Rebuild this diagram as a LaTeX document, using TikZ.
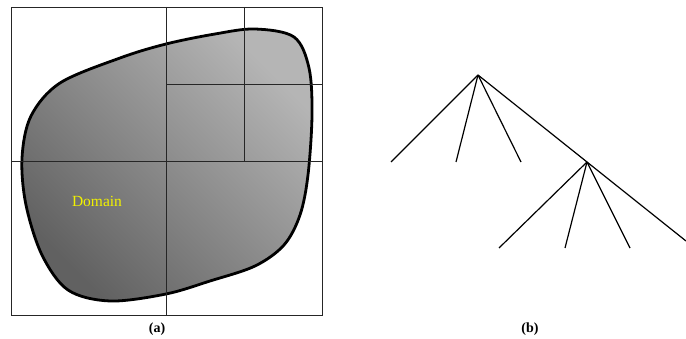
\documentclass[tikz,border=0pt]{standalone}
\usepackage{fontspec}
\setmainfont{Liberation Serif}
\usetikzlibrary{positioning}
\definecolor{domainyellow}{HTML}{F2F200}
\tikzset{
  gridline/.style={line width=0.9pt,black!85},
  branch/.style={line width=1.2pt,black},
  caption/.style={font=\fontsize{14}{16}\selectfont\bfseries}
}

\begin{document}
\begin{tikzpicture}[x=1pt,y=-1pt]
  \useasboundingbox (0,0) rectangle (686,339);
  % (a) domain
  \path[draw=black,line width=2.8pt,top color=black!29,bottom color=black!62,shading angle=-45]
    plot[smooth cycle,tension=0.55] coordinates {
      (255,29) (294,37) (309,68) (312,115) (308,175) (300,215) (284,245)
      (255,266) (210,281) (166,294) (110,301) (68,290) (42,255) (26,205)
      (22,158) (31,116) (60,83) (120,58) (166,44) (215,34)};
  \node[text=domainyellow,font=\fontsize{15.5}{18}\selectfont] (dom) at (97,201) {Domain};
  % quadtree cells
  \draw[gridline] (11,7) rectangle (322,315);
  \draw[gridline] (166,7) -- (166,315);
  \draw[gridline] (11,161.5) -- (322,161.5);
  \draw[gridline] (244.5,7) -- (244.5,161.5);
  \draw[gridline] (166,84.5) -- (322,84.5);
  \node[caption] (capa) at (157,329) {(a)};

  % (b) tree
  \coordinate (r) at (478,75);
  \coordinate (r1) at (391,162);
  \coordinate (r2) at (456,162);
  \coordinate (r3) at (521,162);
  \coordinate (s) at (587,162);
  \coordinate (s1) at (499,248);
  \coordinate (s2) at (565,248);
  \coordinate (s3) at (630,248);
  \coordinate (s4) at (686,241);
  \foreach \c in {r1,r2,r3,s}
    \draw[branch] (r) -- (\c);
  \foreach \c in {s1,s2,s3,s4}
    \draw[branch] (s) -- (\c);
  \node[caption] (capb) at (530,329) {(b)};
\end{tikzpicture}
\end{document}
